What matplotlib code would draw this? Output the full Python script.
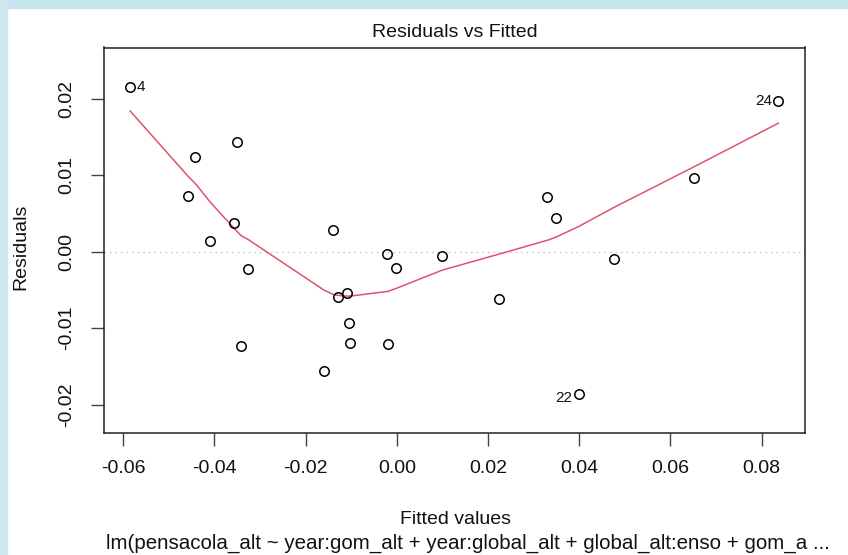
import numpy as np
import matplotlib.pyplot as plt
from matplotlib.patches import Rectangle

plt.rcParams['font.family'] = ['Liberation Sans', 'DejaVu Sans']
plt.rcParams['axes.unicode_minus'] = False

# Fitted values and residuals, one entry per observation (obs number = index + 1)
fitted = [-0.04415, -0.03495, -0.04582, -0.05847, -0.0356, -0.04093, -0.0326,
          -0.03413, -0.0139, -0.00216, -0.00016, 0.00999, -0.01096, -0.01293,
          -0.01052, -0.01017, -0.00203, -0.01601, 0.02249, 0.03301, 0.03485,
          0.03989, 0.04763, 0.08364, 0.06516]
resid = [0.01232, 0.01437, 0.00731, 0.02148, 0.00374, 0.00142, -0.00224,
         -0.01232, 0.00279, -0.00024, -0.00207, -0.00054, -0.00542, -0.00595,
         -0.00935, -0.01196, -0.01202, -0.01559, -0.00617, 0.00714, 0.00447,
         -0.0186, -0.00097, 0.01965, 0.00962]

# Smoothed residual trend at the sorted fitted values
smooth_y = [0.0184, 0.0099, 0.0089, 0.0065, 0.0030, 0.0026, 0.0021, 0.0016,
            -0.0050, -0.0056, -0.0057, -0.0058, -0.0058, -0.0058, -0.0052,
            -0.0052, -0.0048, -0.0024, -0.0003, 0.0015, 0.0019, 0.0033,
            0.0058, 0.0111, 0.0168]

xticks = [-0.06, -0.04, -0.02, 0.00, 0.02, 0.04, 0.06, 0.08]
yticks = [-0.02, -0.01, 0.00, 0.01, 0.02]
caption = "lm(pensacola_alt ~ year:gom_alt + year:global_alt + global_alt:enso + gom_a ..."

fitted = np.array(fitted)
resid = np.array(resid)

fig = plt.figure(figsize=(8.48, 5.55), dpi=100)
fig.patch.set_facecolor('white')
# light frame strips along the top and left edges
fig.patches.append(Rectangle((0, 1 - 8 / 555), 1, 8 / 555, transform=fig.transFigure,
                             color='#c6e4ec', zorder=0))
fig.patches.append(Rectangle((0, 0), 7 / 848, 1, transform=fig.transFigure,
                             color='#cfe8f0', zorder=0))

ax = fig.add_axes([104 / 848, 1 - 433 / 555, (805 - 104) / 848, (433 - 47.5) / 555])

ax.axhline(0, color='#bdbdbd', lw=1.0, linestyle=(0, (1, 3)), zorder=1)
ax.plot(fitted, resid, 'o', mfc='none', mec='black', ms=6.8, mew=1.1, zorder=3)

order = np.argsort(fitted)
ax.plot(fitted[order], smooth_y, color='#DF536B', lw=1.1, zorder=2)

# label the three largest residuals
mid = (fitted.min() + fitted.max()) / 2
for i in np.argsort(-np.abs(resid))[:3]:
    left_side = fitted[i] < mid
    dy = -3 if resid[i] < -0.015 else 0
    ax.annotate(str(i + 1), (fitted[i], resid[i]), xytext=(4.5 if left_side else -4.5, dy),
                textcoords='offset points', ha='left' if left_side else 'right',
                va='center', fontsize=11, color='#111111')

ax.set_xlim(-0.0642, 0.0895)
ax.set_ylim(-0.0237, 0.0267)
ax.set_xticks(xticks)
ax.set_xticklabels([f"{v:.2f}" for v in xticks])
ax.set_yticks(yticks)
ax.set_yticklabels([f"{v:.2f}" for v in yticks])
ax.tick_params(axis='both', length=9.5, width=1.0, color='#444444', labelsize=14,
               labelcolor='#111111', direction='out')
ax.tick_params(axis='x', pad=10)
ax.tick_params(axis='y', pad=11, labelrotation=90)
for lab in ax.get_yticklabels():
    lab.set_va('center')

for sp in ax.spines.values():
    sp.set_linewidth(1.1)
    sp.set_color('#222222')

fig.text(455 / 848, 1 - 32.5 / 555, "Residuals vs Fitted", ha='center', va='center',
         fontsize=14, color='#111111')
fig.text(455 / 848, 1 - 520 / 555, "Fitted values", ha='center', va='center',
         fontsize=14, color='#111111')
fig.text(468 / 848, 1 - 543 / 555, caption, ha='center', va='center',
         fontsize=14.8, color='#111111')
fig.text(21 / 848, 1 - 247 / 555, "Residuals", ha='center', va='center',
         rotation=90, fontsize=14, color='#111111')

fig.savefig('out.png', dpi=100)
